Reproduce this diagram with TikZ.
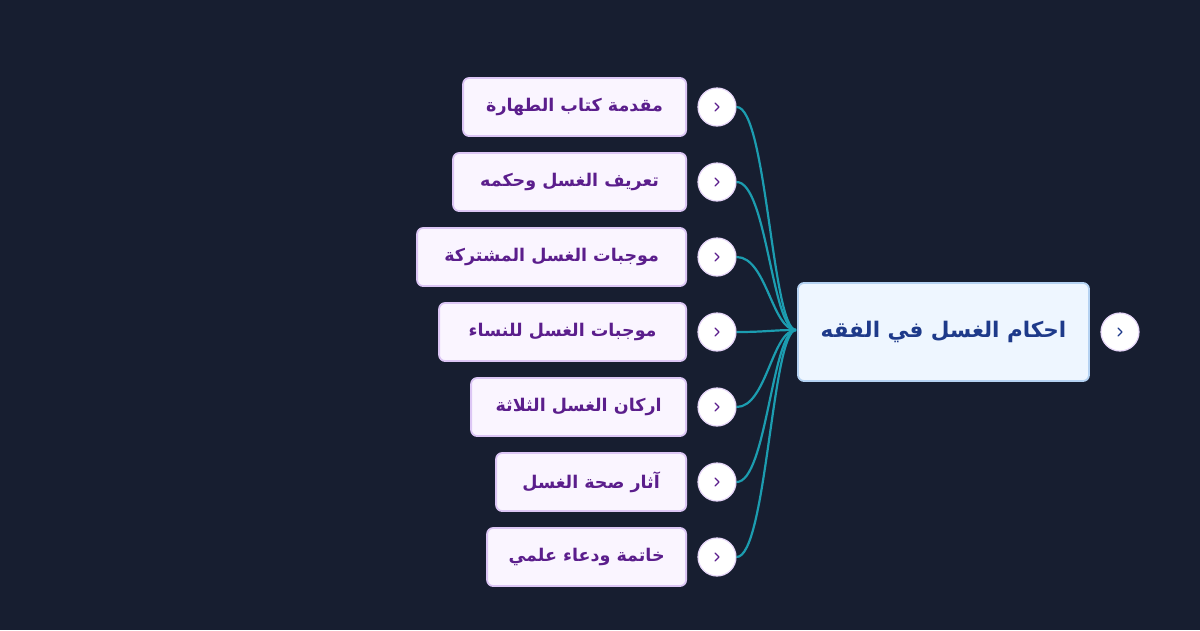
\documentclass[tikz,border=0pt]{standalone}
\usepackage{fontspec}
\usetikzlibrary{calc}
\newfontfamily\arabicfont[Script=Arabic]{DejaVu Sans}
\TeXXeTstate=1
\definecolor{bgc}{HTML}{171E30}
\definecolor{rootfill}{HTML}{EEF6FF}
\definecolor{rootdraw}{HTML}{B5D2F2}
\definecolor{roottext}{HTML}{1E3A8A}
\definecolor{kidfill}{HTML}{FAF5FF}
\definecolor{kiddraw}{HTML}{DCC6F5}
\definecolor{kidtext}{HTML}{5B1E8C}
\definecolor{connc}{HTML}{1C9DB0}
\definecolor{btndraw}{HTML}{E6D6F8}
\tikzset{
  kidbox/.style={draw=kiddraw, fill=kidfill, line width=1.8pt, rounded corners=6pt,
    minimum height=58pt, anchor=east, inner sep=0pt, text=kidtext,
    font=\arabicfont\bfseries\fontsize{17.5}{20}\selectfont},
  rootbox/.style={draw=rootdraw, fill=rootfill, line width=1.8pt, rounded corners=6pt,
    minimum width=291pt, minimum height=98pt, inner sep=0pt, text=roottext,
    font=\arabicfont\bfseries\fontsize{21.5}{26}\selectfont},
  btn/.style={circle, draw=btndraw, fill=white, line width=1.2pt, minimum size=38pt, inner sep=0pt},
  conn/.style={draw=connc, line width=2.2pt},
  chev/.style={line width=1.3pt, line cap=round, line join=round}
}
\begin{document}
\begin{tikzpicture}[x=1pt,y=-1pt]
\fill[bgc] (0,0) rectangle (1200,630);
\useasboundingbox (0,0) rectangle (1200,630);

\node[rootbox] (root) at (943.5,332) {\beginR احكام الغسل في الفقه\endR};
\node[btn] (rb) at (1120,332) {};
\draw[chev, draw=roottext] ($(rb)+(-2,-4)$) -- ($(rb)+(2,0)$) -- ($(rb)+(-2,4)$);

\coordinate (hub) at (796,330);

\foreach \i/\w/\y/\t in {
  1/223/107/{مقدمة كتاب الطهارة},
  2/233/182/{تعريف الغسل وحكمه},
  3/269/257/{موجبات الغسل المشتركة},
  4/247/332/{موجبات الغسل للنساء},
  5/215/407/{اركان الغسل الثلاثة},
  6/190/482/{آثار صحة الغسل},
  7/199/557/{خاتمة ودعاء علمي}}{
  \node[kidbox, minimum width=\w pt] (k\i) at (687,\y) {\beginR\t\endR};
  \node[btn] (b\i) at (717,\y) {};
  \draw[chev, draw=kidtext] ($(b\i)+(-2,-4)$) -- ($(b\i)+(2,0)$) -- ($(b\i)+(-2,4)$);
  \draw[conn] (b\i.east) .. controls +(30,0) and +(-24,0) .. (hub);
}
\end{tikzpicture}
\end{document}
